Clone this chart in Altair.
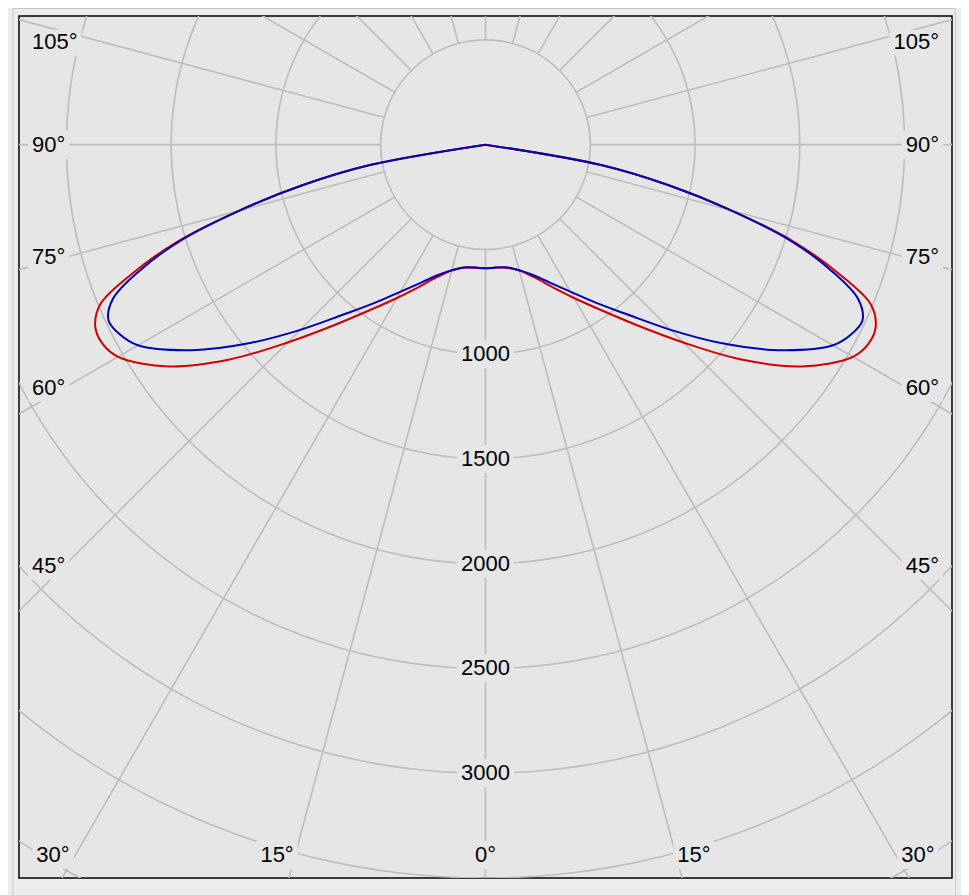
import altair as alt
import pandas as pd
import numpy as np

# ---------------- data ----------------
GAMMA = [0, 5, 10, 15, 20, 25, 30, 35, 40, 45, 50, 55, 60, 62.5, 65, 67.5, 70, 72.5, 75, 77.5, 80, 85, 90]
RED = [590, 589, 597, 622, 672, 748, 845, 965, 1125, 1335, 1595, 1845, 2025, 2060, 2055, 1990, 1790, 1545, 1220, 900, 560, 0, 0]
BLUE = [590, 589, 595, 620, 662, 727, 810, 922, 1060, 1250, 1475, 1710, 1915, 1965, 1985, 1925, 1755, 1530, 1215, 895, 560, 0, 0]

RINGS = [500, 1000, 1500, 2000, 2500, 3000, 3500, 4000]
RING_LABELS = [1000, 1500, 2000, 2500, 3000]
SPOKES = list(range(0, 360, 15))
SIDE_ANGLES = [105, 90, 75, 60, 45]
BOTTOM_ANGLES = [30, 15, 0]

# ---------------- layout / style ----------------
W, H = 933, 862
YMIN, YMAX = -3500, 614
S = H / (YMAX - YMIN)            # px per cd
XMAX = (W / 2) / S
XMIN = -XMAX
GRID = "#bdbdbd"
BG = "#e6e6e6"
FONT = "Liberation Sans"
FS = 22
DIGIT_W = 0.556 * FS
DEG_W = 0.4 * FS

xs = alt.Scale(domain=[XMIN, XMAX], nice=False, zero=False)
ys = alt.Scale(domain=[YMIN, YMAX], nice=False, zero=False)
X = lambda f: alt.X(f, type="quantitative", scale=xs, axis=None)
Y = lambda f: alt.Y(f, type="quantitative", scale=ys, axis=None)

# curves
rows = []
for name, vals in (("C0-C180", RED), ("C90-C270", BLUE)):
    for g, v in zip(GAMMA, vals):
        if g > 0:
            rows.append({"series": name, "theta": -g, "I": v})
        rows.append({"series": name, "theta": g, "I": v})
curve_df = pd.DataFrame(rows)


def curve(name, color):
    return (
        alt.Chart(curve_df)
        .transform_filter(alt.datum.series == name)
        .transform_calculate(
            x="datum.I*sin(datum.theta*PI/180)",
            y="-datum.I*cos(datum.theta*PI/180)",
        )
        .mark_line(interpolate="catmull-rom", strokeWidth=2, color=color, clip=True)
        .encode(x=X("x"), y=Y("y"), order=alt.Order("theta:Q"))
    )


# rings
ring_df = pd.DataFrame([{"ring": r, "a": a} for r in RINGS for a in range(0, 361, 2)])
rings = (
    alt.Chart(ring_df)
    .transform_calculate(x="datum.ring*sin(datum.a*PI/180)", y="-datum.ring*cos(datum.a*PI/180)")
    .mark_line(color=GRID, strokeWidth=1.6, clip=True)
    .encode(x=X("x"), y=Y("y"), detail="ring:N", order=alt.Order("a:Q"))
)

# spokes
spoke_df = pd.DataFrame({"a": SPOKES})
spokes = (
    alt.Chart(spoke_df)
    .transform_calculate(
        x="500*sin(datum.a*PI/180)", y="-500*cos(datum.a*PI/180)",
        x2="8000*sin(datum.a*PI/180)", y2="-8000*cos(datum.a*PI/180)",
    )
    .mark_rule(color=GRID, strokeWidth=1.6, clip=True)
    .encode(x=X("x"), y=Y("y"), x2="x2:Q", y2="y2:Q")
)

# labels
lab = []
for r in RING_LABELS:
    t = str(r)
    w = len(t) * DIGIT_W
    lab.append({"text": t, "x": 0, "y": -r, "align": "center", "base": "middle", "w": w})
for g in SIDE_ANGLES:
    t = f"{g}°"
    w = (len(t) - 1) * DIGIT_W + DEG_W
    yoff = 421 / np.tan(np.radians(g))  # px below centre
    base = "top" if g > 90 else "middle"
    lab.append({"text": t, "x": XMIN + 13 / S, "y": -yoff / S, "align": "left", "base": base, "w": w})
    lab.append({"text": t, "x": XMAX - 13 / S, "y": -yoff / S, "align": "right", "base": base, "w": w})
for g in BOTTOM_ANGLES:
    t = f"{g}°"
    w = (len(t) - 1) * DIGIT_W + DEG_W
    off = min(778 * np.tan(np.radians(g)), W / 2 - 34) / S
    yb = YMIN + 23 / S
    lab.append({"text": t, "x": -off, "y": yb, "align": "center", "base": "middle", "w": w})
    if g > 0:
        lab.append({"text": t, "x": off, "y": yb, "align": "center", "base": "middle", "w": w})
lab_df = pd.DataFrame(lab)

# boxes behind labels (pixel paddings converted to data units)
def box_bounds(row):
    pad = 4
    hh = 14
    if row["align"] == "center":
        x0, x1 = row["x"] - (row["w"] / 2 + pad) / S, row["x"] + (row["w"] / 2 + pad) / S
    elif row["align"] == "left":
        x0, x1 = row["x"] - pad / S, row["x"] + (row["w"] + pad) / S
    else:
        x0, x1 = row["x"] - (row["w"] + pad) / S, row["x"] + pad / S
    if row["base"] == "top":
        y0, y1 = row["y"] + 2 / S, row["y"] - 24 / S
    else:
        y0, y1 = row["y"] + hh / S, row["y"] - hh / S
    return pd.Series({"bx0": x0, "bx1": x1, "by0": y0, "by1": y1})

lab_df = pd.concat([lab_df, lab_df.apply(box_bounds, axis=1)], axis=1)

boxes = (
    alt.Chart(lab_df)
    .mark_rect(fill=BG, stroke=None)
    .encode(x=X("bx0"), x2="bx1:Q", y=Y("by0"), y2="by1:Q")
)

texts = []
for al in ("center", "left", "right"):
    for bs in ("middle", "top"):
        sub = lab_df[(lab_df["align"] == al) & (lab_df["base"] == bs)]
        if len(sub) == 0:
            continue
        texts.append(
            alt.Chart(sub)
            .mark_text(font=FONT, fontSize=FS, color="black", align=al, baseline=bs)
            .encode(x=X("x"), y=Y("y"), text="text:N")
        )

outer = (
    alt.Chart(pd.DataFrame({"k": [0]}))
    .mark_rect(fill=None, stroke="#c8c8c8", strokeWidth=1)
    .encode(x=alt.value(-6), x2=alt.value(936.5), y=alt.value(-7.5), y2=alt.value(900))
)

chart = (
    alt.layer(outer, rings, spokes, curve("C0-C180", "#d00000"), curve("C90-C270", "#0000b4"), boxes, *texts)
    .properties(
        width=W,
        height=H,
        background="#ececec",
        padding={"left": 11, "top": 8, "right": 9, "bottom": 17},
        autosize=alt.AutoSizeParams(type="none"),
    )
    .configure_view(stroke="black", strokeWidth=1.5, fill=BG)
)

chart.save("out.html", embed_options={"renderer": "svg", "actions": False})
